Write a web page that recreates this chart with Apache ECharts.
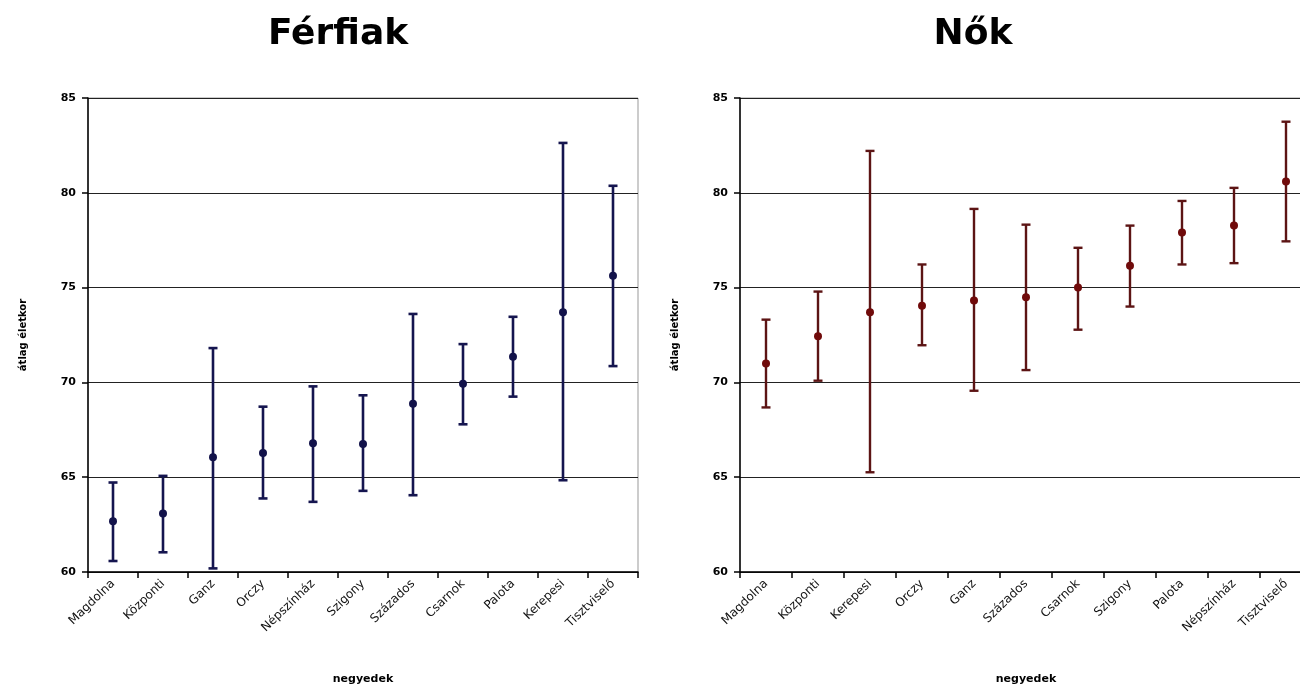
<!DOCTYPE html>
<html>
<head>
<meta charset="utf-8">
<script src="https://cdn.jsdelivr.net/npm/echarts@6/dist/echarts.min.js"></script>
<style>html,body{margin:0;padding:0;background:#fff;overflow:hidden}#c{width:1320px;height:690px}</style>
</head>
<body>
<div id="c"></div>
<script>
// Férfiak (men)
const menCategories = ['Magdolna','Központi','Ganz','Orczy','Népszínház','Szigony','Százados','Csarnok','Palota','Kerepesi','Tisztviselő'];
const menMean  = [62.68, 63.09, 66.05, 66.28, 66.79, 66.75, 68.88, 69.93, 71.35, 73.70, 75.63];
const menLow   = [60.58, 61.04, 60.19, 63.88, 63.70, 64.28, 64.05, 67.79, 69.25, 64.84, 70.86];
const menHigh  = [64.72, 65.07, 71.81, 68.72, 69.79, 69.32, 73.61, 72.02, 73.46, 82.63, 80.37];
// Nők (women)
const womenCategories = ['Magdolna','Központi','Kerepesi','Orczy','Ganz','Százados','Csarnok','Szigony','Palota','Népszínház','Tisztviselő'];
const womenMean = [71.00, 72.43, 73.70, 74.04, 74.32, 74.49, 75.01, 76.15, 77.91, 78.28, 80.59];
const womenLow  = [68.68, 70.09, 65.26, 71.96, 69.56, 70.65, 72.78, 74.00, 76.22, 76.29, 77.44];
const womenHigh = [73.31, 74.79, 82.21, 76.22, 79.15, 78.32, 77.10, 78.27, 79.57, 80.26, 83.75];
const yTicks = [60, 65, 70, 75, 80, 85];

const FONT = '"DejaVu Sans", sans-serif';
const chart = echarts.init(document.getElementById('c'), null, {renderer: 'canvas'});

function errData(low, high) { return low.map((l, i) => [i, l, high[i]]); }
function errSeries(idx, low, high, color, lw) {
  return {
    type: 'custom', xAxisIndex: idx, yAxisIndex: idx, z: 3,
    data: errData(low, high),
    renderItem: function (params, api) {
      const x = api.value(0);
      const lo = api.coord([x, api.value(1)]);
      const hi = api.coord([x, api.value(2)]);
      const hw = 4.5;
      const style = {stroke: color, lineWidth: lw, fill: null};
      return {type: 'group', children: [
        {type: 'line', shape: {x1: lo[0], y1: lo[1], x2: hi[0], y2: hi[1]}, style: style},
        {type: 'line', shape: {x1: lo[0]-hw, y1: lo[1], x2: lo[0]+hw, y2: lo[1]}, style: style},
        {type: 'line', shape: {x1: hi[0]-hw, y1: hi[1], x2: hi[0]+hw, y2: hi[1]}, style: style}
      ]};
    }
  };
}
function xAx(idx, cats) {
  return {
    type: 'category', gridIndex: idx, data: cats, boundaryGap: true,
    name: 'negyedek', nameLocation: 'middle', nameGap: 102,
    nameTextStyle: {fontFamily: FONT, fontWeight: 'bold', fontSize: 11, color: '#000'},
    axisLine: {lineStyle: {color: '#000', width: 1.5}},
    axisTick: {show: true, length: 6, lineStyle: {color: '#000', width: 1.5}, alignWithLabel: false},
    axisLabel: {rotate: 44, fontFamily: FONT, fontSize: 12, color: '#111', margin: 10, interval: 0},
    splitLine: {show: false}
  };
}
function yAx(idx) {
  return {
    type: 'value', gridIndex: idx, min: 60, max: 85, interval: 5,
    name: 'átlag életkor', nameLocation: 'middle', nameGap: 60, nameRotate: 90,
    nameTextStyle: {fontFamily: FONT, fontWeight: 'bold', fontSize: 10, color: '#000'},
    axisLine: {show: true, lineStyle: {color: '#000', width: 1.5}},
    axisTick: {show: true, length: 6, lineStyle: {color: '#000', width: 1.5}},
    axisLabel: {fontFamily: FONT, fontWeight: 'bold', fontSize: 11, color: '#000', margin: 12,
      formatter: function (v) { return yTicks.indexOf(v) >= 0 ? String(v) : ''; }},
    splitLine: {show: true, lineStyle: {color: '#222', width: 1.2}}
  };
}

chart.setOption({
  backgroundColor: '#fff',
  animation: false,
  title: [
    {text: 'Férfiak', left: 333, top: 12, textAlign: 'center',
      textStyle: {fontFamily: FONT, fontWeight: 'bold', fontSize: 36, color: '#000'}},
    {text: 'Nők', left: 968, top: 12, textAlign: 'center',
      textStyle: {fontFamily: FONT, fontWeight: 'bold', fontSize: 36, color: '#000'}}
  ],
  grid: [
    {left: 88, top: 98, width: 550, height: 474, show: true, borderColor: '#999', borderWidth: 1, backgroundColor: 'transparent'},
    {left: 740, top: 98, width: 572, height: 474, show: true, borderColor: '#999', borderWidth: 1, backgroundColor: 'transparent'}
  ],
  xAxis: [xAx(0, menCategories), xAx(1, womenCategories)],
  yAxis: [yAx(0), yAx(1)],
  series: [
    errSeries(0, menLow, menHigh, '#15154f', 2.6),
    {type: 'scatter', xAxisIndex: 0, yAxisIndex: 0, z: 4, data: menMean, symbol: 'circle', symbolSize: 8,
      itemStyle: {color: '#12124a', opacity: 1}},
    errSeries(1, womenLow, womenHigh, '#5c1414', 2.4),
    {type: 'scatter', xAxisIndex: 1, yAxisIndex: 1, z: 4, data: womenMean, symbol: 'circle', symbolSize: 8,
      itemStyle: {color: '#700a0a', opacity: 1}}
  ]
});
</script>
</body>
</html>
